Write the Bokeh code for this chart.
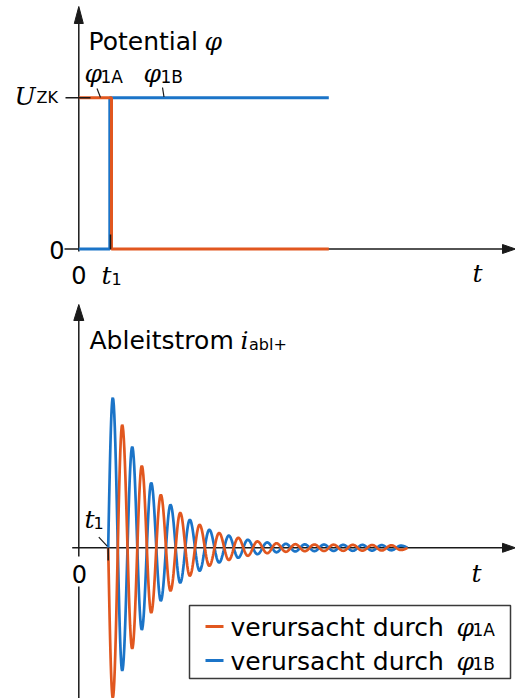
import numpy as np
from bokeh.plotting import figure
from bokeh.layouts import column
from bokeh.models import Label, Range1d
from bokeh.embed import file_html
from bokeh.resources import INLINE

# ---------------- data ----------------
# top panel: potentials (step functions)
U_ZK = 1.0
t_end_top = 25.0          # end of drawn potential lines
t_step_1A = 3.27          # phi_1A falls from U_ZK to 0
t_step_1B = 3.10          # phi_1B rises from 0 to U_ZK

# bottom panel: leakage current, damped oscillation caused by phi_1B
t1_bottom = 2.94
t_ext = [3.40, 4.34, 5.34, 6.30, 7.24, 8.20, 9.17, 10.14, 11.10, 12.08,
         13.05, 14.03, 15.00, 15.94, 16.90, 17.86, 18.84, 19.77, 20.70, 21.65,
         22.60, 23.56, 24.52, 25.48, 26.44, 27.40, 28.36, 29.33, 30.29, 31.25, 32.21]
amp_ext = [1.50, 1.23, 1.01, 0.82, 0.65, 0.53, 0.43, 0.35, 0.28, 0.23,
           0.18, 0.148, 0.122, 0.10, 0.080, 0.064, 0.054, 0.045, 0.040, 0.036,
           0.034, 0.033, 0.032, 0.031, 0.030, 0.030, 0.029, 0.028, 0.027, 0.025, 0.022]
t_end_bottom = 32.87

ORANGE = "#E1571F"
BLUE = "#1B74C8"
AX = "#1a1a1a"
SANS = "DejaVu Sans"
MATH = "DejaVu Serif"

# ------------- picture-pixel helpers (layout only) -------------
X0 = 78.3
TXT_DY = 7.5   # text offset correction in pixels

def tx(px):
    return (px - X0) / 10.0

def ty1(py):
    return (248.5 - py) / 151.2

def ty2(py):
    return (547.3 - py) / 100.0

W = 515
H1 = 292
H2 = 406


def lab(p, x, ypx, conv, text, size, font=SANS, style="normal", align="left"):
    p.add_layout(Label(x=x, y=conv(ypx - TXT_DY), text=text, text_font=font,
                       text_font_size=f"{size}px", text_font_style=style,
                       text_align=align, text_baseline="alphabetic", text_color="black"))

# ---------------- top panel ----------------
p1 = figure(width=W, height=H1, x_range=Range1d(tx(0), tx(W)),
            y_range=Range1d(ty1(H1), ty1(0)), x_axis_type=None, y_axis_type=None,
            output_backend="svg", toolbar_location=None, min_border=0,
            outline_line_color=None, background_fill_color="white",
            border_fill_color="white")
p1.grid.visible = False

# axes
p1.segment(x0=[0], y0=[ty1(251)], x1=[0], y1=[ty1(20)], line_color=AX, line_width=1.5)
p1.segment(x0=[tx(64)], y0=[0], x1=[tx(505)], y1=[0], line_color=AX, line_width=1.5)
p1.patch(x=[0, tx(X0 - 4.5), tx(X0 + 4.5)], y=[ty1(6), ty1(23), ty1(23)], color=AX)
p1.patch(x=[tx(515), tx(502), tx(502)], y=[0, ty1(244), ty1(253)], color=AX)

# potential lines
p1.line(x=[0, t_step_1B, t_step_1B, t_end_top], y=[0, 0, U_ZK, U_ZK],
        line_color=BLUE, line_width=3)
p1.line(x=[0, t_step_1A, t_step_1A, t_end_top], y=[U_ZK, U_ZK, 0, 0],
        line_color=ORANGE, line_width=3)

# ticks
p1.segment(x0=[tx(65)], y0=[U_ZK], x1=[tx(90)], y1=[U_ZK], line_color=AX, line_width=1.5)
p1.segment(x0=[tx(110)], y0=[ty1(234)], x1=[tx(110)], y1=[0], line_color=AX, line_width=1.5)
# leader lines
p1.segment(x0=[tx(96.5), tx(162)], y0=[ty1(88), ty1(87)], x1=[tx(100), tx(163.5)],
           y1=[ty1(97), ty1(96.5)], line_color=AX, line_width=1.2)

lab(p1, tx(88), 48.5, ty1, "Potential", 25)
lab(p1, tx(204), 48.5, ty1, "φ", 25, font=MATH, style="italic")
lab(p1, tx(84), 80, ty1, "φ", 25, font=MATH, style="italic")
lab(p1, tx(100), 83.5, ty1, "1A", 17)
lab(p1, tx(143), 80, ty1, "φ", 25, font=MATH, style="italic")
lab(p1, tx(160), 83.5, ty1, "1B", 17)
lab(p1, tx(14), 103, ty1, "U", 25, font=MATH, style="italic")
lab(p1, tx(36), 104, ty1, "ZK", 16)
lab(p1, tx(64), 257, ty1, "0", 24, align="right")
lab(p1, 0, 282, ty1, "0", 24, align="center")
lab(p1, tx(101), 282, ty1, "t", 25, font=MATH, style="italic")
lab(p1, tx(111), 285.5, ty1, "1", 16)
lab(p1, tx(472), 280, ty1, "t", 25, font=MATH, style="italic")

# ---------------- bottom panel ----------------
p2 = figure(width=W, height=H2, x_range=Range1d(tx(0), tx(W)),
            y_range=Range1d(ty2(H1 + H2), ty2(H1)), x_axis_type=None,
            y_axis_type=None, output_backend="svg", toolbar_location=None, min_border=0,
            outline_line_color=None, background_fill_color="white",
            border_fill_color="white")
p2.grid.visible = False


def through_extrema(t0, ts, vals, t_end, n=20):
    """smooth curve passing through the read extrema"""
    xs = [t0]
    ys = [0.0]
    s = np.linspace(0, 1, n)[1:]
    xs.extend(t0 + (ts[0] - t0) * s)
    ys.extend(vals[0] * np.sin(np.pi / 2 * s))
    for i in range(len(ts) - 1):
        a, b = vals[i], vals[i + 1]
        xs.extend(ts[i] + (ts[i + 1] - ts[i]) * s)
        ys.extend(a + (b - a) * (1 - np.cos(np.pi * s)) / 2)
    xs.extend(ts[-1] + (t_end - ts[-1]) * s)
    ys.extend(vals[-1] * np.cos(np.pi / 2 * s))
    return np.array(xs), np.array(ys)


signs = [1 if k % 2 == 0 else -1 for k in range(len(amp_ext))]
vals_B = [a * s for a, s in zip(amp_ext, signs)]
vals_A = [-v for v in vals_B]

# axes (y axis interrupted behind the "0" label)
p2.segment(x0=[0, 0], y0=[ty2(318), ty2(586)], x1=[0, 0], y1=[ty2(556), ty2(700)],
           line_color=AX, line_width=1.5)
p2.segment(x0=[tx(71.7)], y0=[0], x1=[tx(505)], y1=[0], line_color=AX, line_width=1.5)
p2.patch(x=[0, tx(X0 - 5), tx(X0 + 5)], y=[ty2(304), ty2(320), ty2(320)], color=AX)
p2.patch(x=[tx(515), tx(502), tx(502)], y=[0, ty2(542.8), ty2(551.8)], color=AX)

xb, yb = through_extrema(t1_bottom, t_ext, vals_B, t_end_bottom)
xa, ya = through_extrema(t1_bottom, t_ext, vals_A, t_end_bottom)
p2.line(xb, yb, line_color=BLUE, line_width=2.7)
p2.line(xa, ya, line_color=ORANGE, line_width=2.7)

p2.segment(x0=[t1_bottom], y0=[0], x1=[t1_bottom], y1=[ty2(560)], line_color=AX, line_width=1.5)
p2.segment(x0=[tx(98.3)], y0=[ty2(536.7)], x1=[tx(106.7)], y1=[ty2(545.7)],
           line_color=AX, line_width=1.2)

lab(p2, tx(89), 347.3, ty2, "Ableitstrom", 25)
lab(p2, tx(240), 347.3, ty2, "i", 25, font=MATH, style="italic")
lab(p2, tx(248.5), 351, ty2, "abl+", 16)
lab(p2, 0.05, 580.7, ty2, "0", 24, align="center")
lab(p2, tx(84), 526.7, ty2, "t", 25, font=MATH, style="italic")
lab(p2, tx(93), 530, ty2, "1", 16)
lab(p2, tx(471), 580, ty2, "t", 25, font=MATH, style="italic")

# legend (drawn by hand so the subscripts can be rendered)
p2.quad(left=[tx(189)], right=[tx(510)], top=[ty2(605)], bottom=[ty2(678)],
        fill_color="white", line_color="#3a3a3a", line_width=1.5)
for ypx, col, sub in [(626, ORANGE, "1A"), (660, BLUE, "1B")]:
    p2.segment(x0=[tx(205)], y0=[ty2(ypx)], x1=[tx(223)], y1=[ty2(ypx)],
               line_color=col, line_width=3)
    lab(p2, tx(230), ypx + 8.3, ty2, "verursacht durch", 25)
    lab(p2, tx(456), ypx + 8.3, ty2, "φ", 25, font=MATH, style="italic")
    lab(p2, tx(472), ypx + 10.5, ty2, sub, 17)

layout = column(p1, p2, spacing=0)
open("out.html", "w").write(file_html(layout, INLINE))
